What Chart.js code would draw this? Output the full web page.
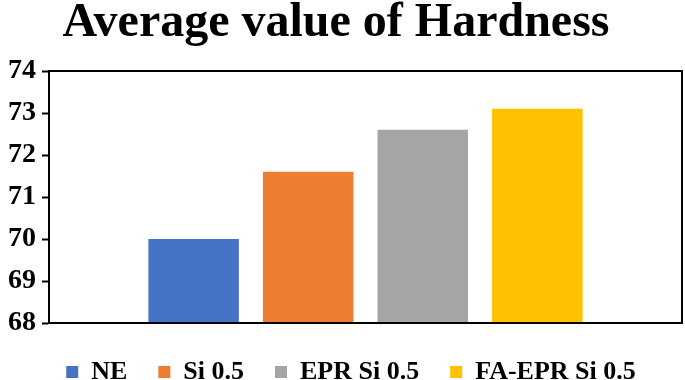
<!DOCTYPE html>
<html>
<head>
<meta charset="utf-8">
<script src="https://cdn.jsdelivr.net/npm/chart.js@4.4.0/dist/chart.umd.min.js"></script>
<style>
  html, body { margin: 0; padding: 0; background: #fff; }
  #wrap { width: 685px; height: 380px; }
</style>
</head>
<body>
<div id="wrap"><canvas id="grafico"></canvas></div>
<script>
// datos
const categorias = ['Hardness'];
const series = ['NE', 'Si 0.5', 'EPR Si 0.5', 'FA-EPR Si 0.5'];
const valores = [70.0, 71.6, 72.6, 73.1];
const colores = ['#4472C4', '#ED7D31', '#A5A5A5', '#FFC000'];
const ticksY = [68, 69, 70, 71, 72, 73, 74];

const fuente = "'Liberation Serif', 'Times New Roman', serif";

const ajustes = {
    id: 'ajustes',
    beforeInit(chart) {
        // la leyenda usa padding grande para separar items, pero no tan alta
        const fitOriginal = chart.legend.fit;
        chart.legend.fit = function () {
            fitOriginal.call(this);
            this.height = 57;
        };
    },
    afterLayout(chart) {
        // el titulo va un poco a la izquierda y la leyenda un poco a la derecha
        chart.titleBlock.left -= 6;
        chart.titleBlock.right -= 6;
        chart.legend.left += 9;
        chart.legend.right += 9;
        chart.legend.top -= 3;
        chart.legend.bottom -= 3;
    },
    afterDraw(chart) {
        // marco negro alrededor del area de trazado
        const { ctx, chartArea } = chart;
        ctx.save();
        ctx.strokeStyle = '#000';
        ctx.lineWidth = 2;
        ctx.strokeRect(chartArea.left, chartArea.top, chartArea.right - chartArea.left, chartArea.bottom - chartArea.top);
        ctx.restore();
    }
};

const datasets = series.map((nombre, i) => {
    return {
        label: nombre,
        data: [valores[i]],
        backgroundColor: colores[i],
        borderWidth: 0
    };
});

new Chart(document.getElementById('grafico'), {
    type: 'bar',
    data: {
        labels: categorias,
        datasets: datasets
    },
    options: {
        responsive: true,
        maintainAspectRatio: false,
        animation: false,
        categoryPercentage: 0.724,
        barPercentage: 0.79,
        layout: {
            padding: { left: 2, right: 3, top: 0, bottom: -8 }
        },
        plugins: {
            title: {
                display: true,
                text: 'Average value of Hardness',
                color: '#000',
                font: { family: fuente, size: 48, weight: 'bold', lineHeight: 1.0 },
                padding: { top: 0, bottom: 23 }
            },
            legend: {
                position: 'bottom',
                labels: {
                    color: '#000',
                    font: { family: fuente, size: 26, weight: 'bold' },
                    boxWidth: 12,
                    boxHeight: 12,
                    padding: 31
                }
            },
            tooltip: { enabled: false }
        },
        scales: {
            x: {
                ticks: { display: false },
                grid: { display: false },
                border: { color: '#000', width: 2 }
            },
            y: {
                min: ticksY[0],
                max: ticksY[ticksY.length - 1],
                afterBuildTicks: (eje) => {
                    eje.ticks = ticksY.map(v => ({ value: v }));
                },
                ticks: {
                    color: '#000',
                    font: { family: fuente, size: 28, weight: 'bold' },
                    padding: 6
                },
                grid: {
                    drawOnChartArea: false,
                    drawTicks: true,
                    tickLength: 7,
                    tickWidth: 2,
                    tickColor: '#000'
                },
                border: { color: '#000', width: 2 }
            }
        }
    },
    plugins: [ajustes]
});
</script>
</body>
</html>
